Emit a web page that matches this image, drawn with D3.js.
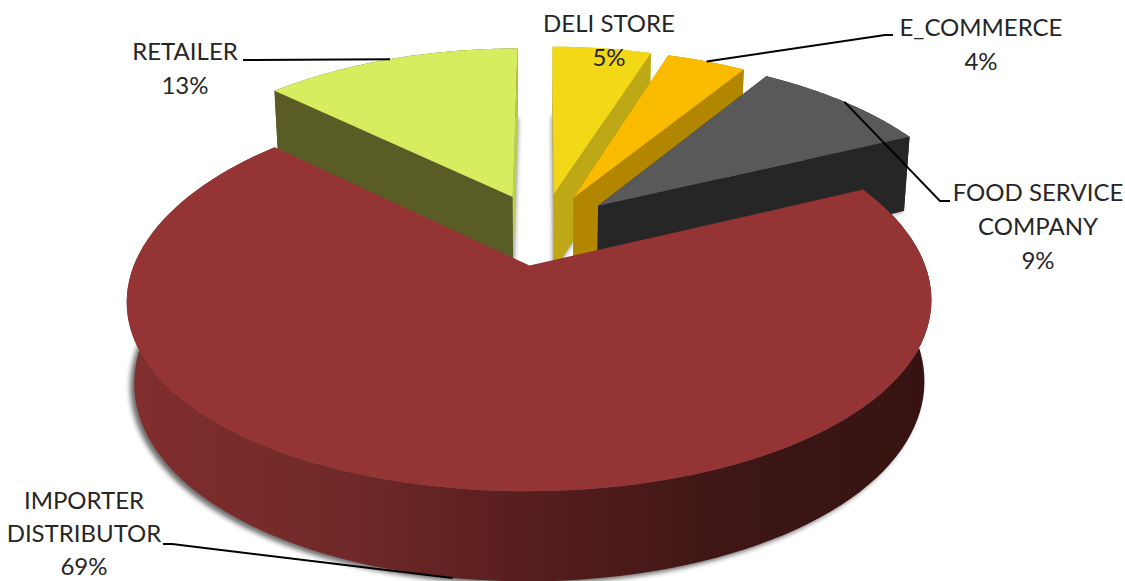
<!DOCTYPE html>
<html>
<head>
<meta charset="utf-8">
<script src="https://cdn.jsdelivr.net/npm/d3@7/dist/d3.min.js"></script>
<style>
  html, body { margin: 0; padding: 0; background: #fff; }
  svg { display: block; }
  text { font-family: Lato, "Open Sans", sans-serif; font-size: 24px; fill: #262626; text-anchor: middle; }
</style>
</head>
<body>
<svg id="chart" width="1125" height="581"></svg>
<script>
// Sales share per customer channel, in slice order, clockwise
const categories = ["IMPORTER DISTRIBUTOR", "RETAILER", "DELI STORE", "E_COMMERCE", "FOOD SERVICE COMPANY"];
const shares = [69, 13, 5, 4, 9];
const topColors = ["#943434", "#d7ec5e", "#f2d816", "#fbbc00", "#595959"];
const startWallColors = ["#3a1514", "#5a5c25", "#c9b215", "#b38600", "#262626"];
const endWallColors = ["#3a1514", "#bcd04c", "#bfa815", "#b38600", "#262626"];
const labelLines = [
  ["IMPORTER", "DISTRIBUTOR", "69%"],
  ["RETAILER", "13%"],
  ["DELI STORE", "5%"],
  ["E_COMMERCE", "4%"],
  ["FOOD SERVICE", "COMPANY", "9%"]
];

const deg = Math.PI / 180;
const svg = d3.select("#chart");
const defs = svg.append("defs");

// Camera model: the pie lies on a unit disc, seen in perspective from above
const cam = { cx: 542, cy: 229, a: 382, b: 179.6, px: 0.175, p: 0.15, depth: 80, q: 0.017 };
const explode = 0.2;

function project(x, y, t) {
  const w = 1 + cam.p * y + cam.q * t;
  const wx = 1 + cam.px * y + cam.q * t;
  return [cam.cx + cam.a * x / wx, cam.cy - (cam.b * y - cam.depth * t) / w];
}

const pie = d3.pie().sort(null).value(d => d)
  .startAngle(64.9 * deg).endAngle(424.9 * deg);
const slices = pie(shares).map((s, i) => {
  const mid = (s.startAngle + s.endAngle) / 2;
  return {
    i, start: s.startAngle, end: s.endAngle, mid,
    ox: explode * Math.sin(mid), oy: explode * Math.cos(mid)
  };
});

const rimPoint = (s, ang, t) => project(s.ox + Math.sin(ang), s.oy + Math.cos(ang), t);
const apex = (s, t) => project(s.ox, s.oy, t);
const arcAngles = s => d3.range(0, 121).map(k => s.start + (s.end - s.start) * k / 120);
const closed = d3.line().curve(d3.curveLinearClosed);
const open = d3.line();

const topFace = s => closed([apex(s, 0), ...arcAngles(s).map(a => rimPoint(s, a, 0))]);
const bottomFace = s => closed([apex(s, 1), ...arcAngles(s).map(a => rimPoint(s, a, 1))]);
const rimWall = s => closed([
  ...arcAngles(s).map(a => rimPoint(s, a, 0)),
  ...arcAngles(s).reverse().map(a => rimPoint(s, a, 1))
]);
const cutWall = (s, ang) => closed([apex(s, 0), rimPoint(s, ang, 0), rimPoint(s, ang, 1), apex(s, 1)]);

// Horizontal shading along the curved wall of the large slice
const wallGrad = defs.append("linearGradient").attr("id", "rimShade")
  .attr("gradientUnits", "userSpaceOnUse")
  .attr("x1", 126).attr("x2", 930).attr("y1", 0).attr("y2", 0);
[[0, "#812e2e"], [0.25, "#722a29"], [0.5, "#571e1d"], [0.75, "#3d1615"], [1, "#361312"]]
  .forEach(([o, c]) => wallGrad.append("stop").attr("offset", o).attr("stop-color", c));

defs.append("filter").attr("id", "soft").attr("x", "-20%").attr("y", "-20%")
  .attr("width", "140%").attr("height", "140%")
  .append("feGaussianBlur").attr("stdDeviation", 2.6);

// Smaller slices first; the large slice sits in front of them
const drawOrder = [1, 2, 3, 4, 0].map(i => slices[i]);

const g = svg.append("g");
drawOrder.forEach(s => {
  const slice = g.append("g").attr("class", "slice").attr("data-name", categories[s.i]);
  slice.append("path").attr("d", bottomFace(s))
    .attr("transform", s.i === 0 ? "translate(-4,3)" : null)
    .attr("fill", "#3c3c3c").attr("opacity", 0.75).attr("filter", "url(#soft)");
  if (s.i !== 0) {
    slice.append("path").attr("d", rimWall(s)).attr("fill", startWallColors[s.i]);
    slice.append("path").attr("d", cutWall(s, s.start)).attr("fill", startWallColors[s.i]);
    slice.append("path").attr("d", cutWall(s, s.end)).attr("fill", endWallColors[s.i]);
  } else {
    slice.append("path").attr("d", rimWall(s)).attr("fill", "url(#rimShade)");
  }
  slice.append("path").attr("d", topFace(s)).attr("fill", topColors[s.i]);
});

// Leader lines run from a slice's rim midpoint out to its label
const leaders = [
  { i: 1, t: 0, via: [[243, 60]] },
  { i: 3, t: 0, via: [[885, 35], [893, 35]] },
  { i: 4, t: 0, via: [[940, 201], [950, 201]] },
  { i: 0, t: 1, via: [[172, 544], [163, 544]] }
];
leaders.forEach(l => {
  const s = slices[l.i];
  g.append("path")
    .attr("d", open([rimPoint(s, s.mid, l.t), ...l.via]))
    .attr("fill", "none").attr("stroke", "#000").attr("stroke-width", 2);
});

const labelAnchors = [[84, 509], [185, 60], [609, 32], [981, 36], [1038, 201]];
const lineSteps = [33, 34, 34, 34, 34];
labelLines.forEach((lines, i) => {
  const [x, y] = labelAnchors[i];
  const t = g.append("text").attr("x", x).attr("y", y);
  lines.forEach((line, k) => t.append("tspan").attr("x", x).attr("y", y + k * lineSteps[i]).text(line));
});
</script>
</body>
</html>
